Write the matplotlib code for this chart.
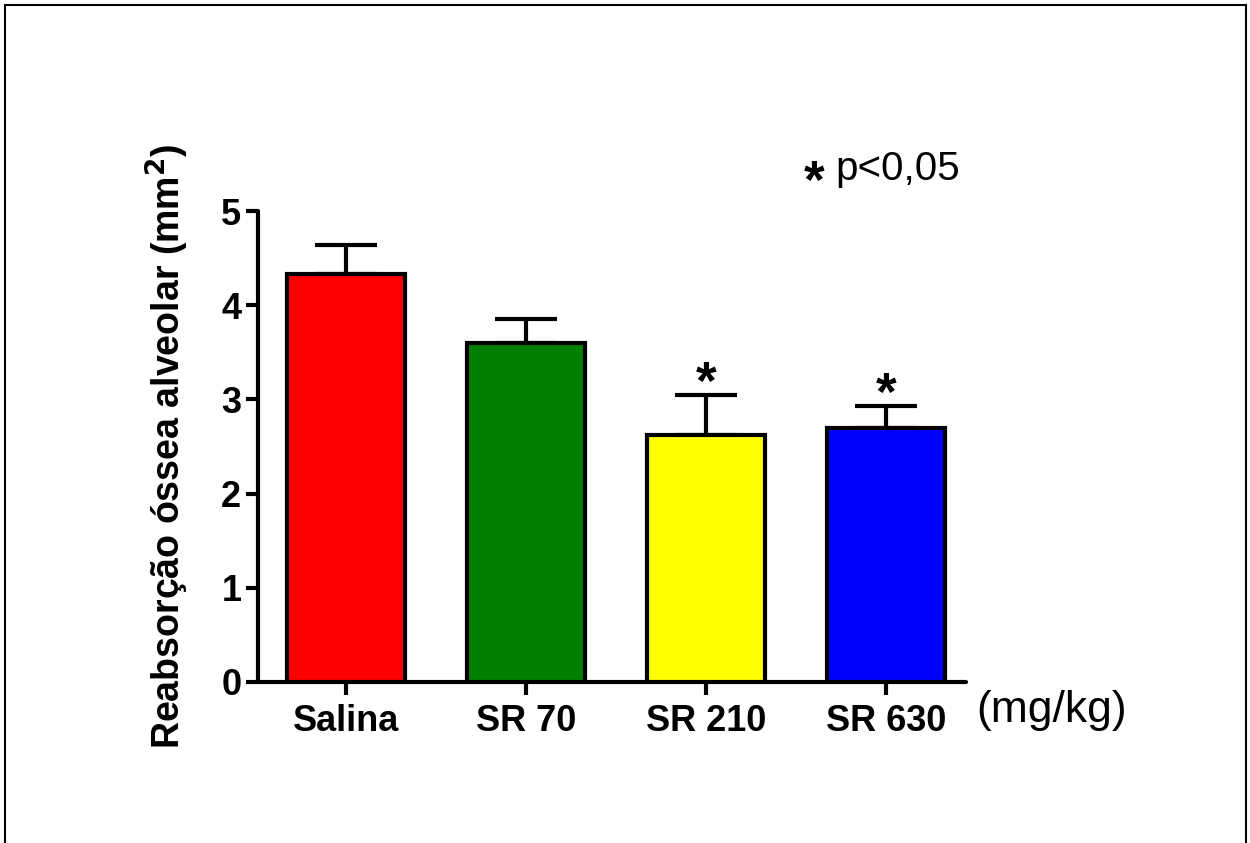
import matplotlib.pyplot as plt
from matplotlib.patches import Rectangle

# data
groups = ['Salina', 'SR 70', 'SR 210', 'SR 630']
means = [4.33, 3.60, 2.62, 2.70]
sem = [0.31, 0.25, 0.43, 0.23]
colors = ['#ff0000', '#008000', '#ffff00', '#0000ff']
signif = ['', '', '*', '*']

plt.rcParams['font.family'] = ['Liberation Sans', 'DejaVu Sans']

fig = plt.figure(figsize=(12.5, 8.43), dpi=100)
ax = fig.add_axes([0.2064, 0.191, 0.566, 0.5587])

x = range(len(groups))
ax.bar(x, means, width=0.655, color=colors, edgecolor='black', linewidth=3, zorder=3)
ax.errorbar(x, means, yerr=[[0] * len(sem), sem], fmt='none', ecolor='black',
            elinewidth=3, capsize=22, capthick=3, zorder=2)

for i, (m, s, lab) in enumerate(zip(means, sem, signif)):
    if lab:
        ax.text(i, m + s - 0.04, lab, ha='center', va='baseline', fontsize=38,
                fontweight='bold')

ax.set_xlim(-0.49, 3.44)
ax.set_ylim(0, 5)
ax.set_yticks([0, 1, 2, 3, 4, 5])
ax.set_xticks(list(x))
ax.set_xticklabels(groups)

for side in ['top', 'right']:
    ax.spines[side].set_visible(False)
for side in ['left', 'bottom']:
    ax.spines[side].set_linewidth(3)
    ax.spines[side].set_capstyle('round')
ax.tick_params(axis='both', width=3, length=9, labelsize=26)
ax.tick_params(axis='y', pad=3)
ax.tick_params(axis='x', pad=7)
for t in ax.get_xticklabels() + ax.get_yticklabels():
    t.set_fontweight('bold')

ax.set_ylabel('Reabsorção óssea alveolar (mm$^\\mathbf{2}$)', fontsize=27,
              fontweight='bold', labelpad=22)

ax.text(3.5, -0.09, '(mg/kg)', fontsize=32, ha='left', va='top',
        transform=ax.transData, clip_on=False)
fig.text(0.643, 0.782, '*', fontsize=38, fontweight='bold', ha='left', va='center')
fig.text(0.668, 0.8, 'p<0,05', fontsize=29, ha='left', va='center')

# outer frame, open at the bottom edge
fig.patches.append(Rectangle((0.004, -0.1), 0.993, 1.094, transform=fig.transFigure,
                             fill=False, edgecolor='black', linewidth=1.5))

fig.savefig('out.png', dpi=100)
